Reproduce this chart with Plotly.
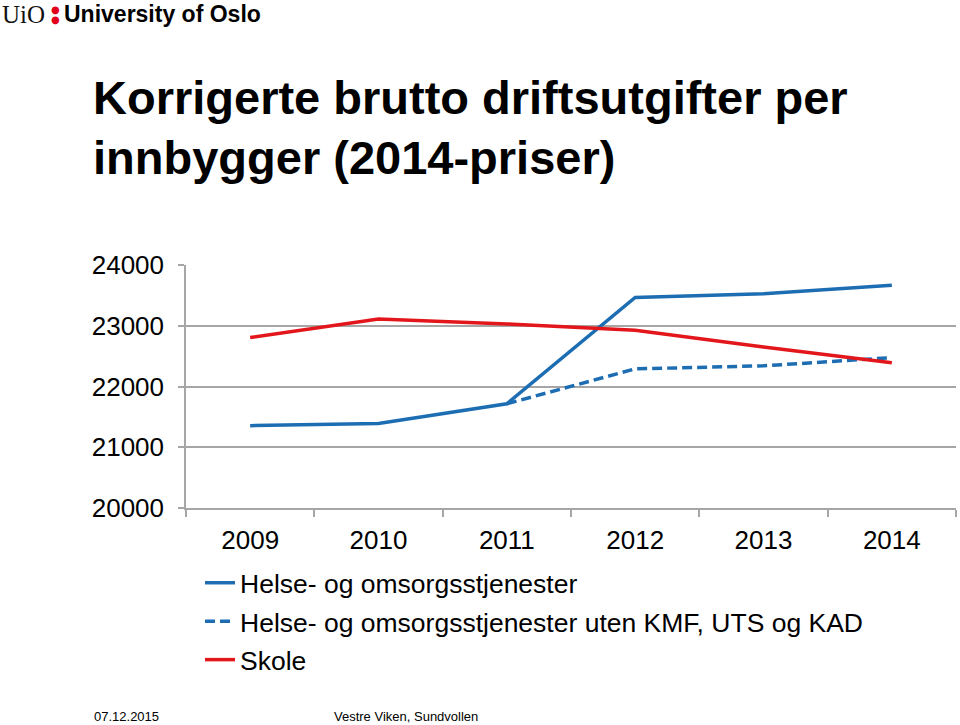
import plotly.graph_objects as go

years = ["2009", "2010", "2011", "2012", "2013", "2014"]
helse = [21355, 21390, 21715, 23465, 23525, 23665]
helse_uten = [None, None, 21715, 22290, 22340, 22475]
skole = [22805, 23110, 23030, 22925, 22650, 22390]
y_ticks = [20000, 21000, 22000, 23000, 24000]

BLUE = "#1D6DB3"
RED = "#E3171B"
GRID = "#A6A6A6"

L, R, T, B = 186, 956, 265, 508
W, H = 960, 725


def px(x):
    return (x - L) / (R - L)


def py(y):
    return (B - y) / (B - T)


fig = go.Figure()
fig.add_trace(go.Scatter(x=years, y=helse, mode="lines", name="Helse- og omsorgsstjenester",
                         legendgroup="a", line=dict(color=BLUE, width=3.5)))
fig.add_trace(go.Scatter(x=years, y=helse_uten, mode="lines",
                         name="Helse- og omsorgsstjenester uten KMF, UTS og KAD",
                         legendgroup="b", line=dict(color=BLUE, width=3.5, dash="10px,5px")))
fig.add_trace(go.Scatter(x=years, y=skole, mode="lines", name="Skole",
                         legendgroup="c", line=dict(color=RED, width=3.5)))

font = "Liberation Sans, Arial, sans-serif"

fig.update_layout(
    width=W, height=H,
    margin=dict(l=L, r=W - R, t=T, b=H - B, pad=0),
    plot_bgcolor="white", paper_bgcolor="white",
    font=dict(family=font, color="black", size=26),
    showlegend=True,
    legend=dict(x=px(200), y=py(559), xanchor="left", yanchor="top",
                font=dict(size=26.5, family=font), bgcolor="rgba(0,0,0,0)",
                traceorder="grouped", itemwidth=30, tracegroupgap=1),
    xaxis=dict(type="category", range=[-0.5, 5.5], tickson="boundaries",
               ticks="outside", ticklen=7, tickcolor=GRID, tickwidth=1.5,
               showline=True, linecolor=GRID, linewidth=1.5,
               showgrid=False, zeroline=False,
               tickfont=dict(size=26, family=font), ticklabelstandoff=8),
    yaxis=dict(range=[20000, 24000], tickvals=y_ticks, ticktext=[str(v) for v in y_ticks],
               ticks="outside", ticklen=6, tickcolor=GRID, tickwidth=1.5,
               showline=True, linecolor=GRID, linewidth=1.5,
               showgrid=True, gridcolor=GRID, gridwidth=1.5, zeroline=False,
               tickfont=dict(size=26, family=font), ticklabelstandoff=9),
)

ann = []
ann.append(dict(text="<b>Korrigerte brutto driftsutgifter per</b>", x=px(91), y=py(98),
                xanchor="left", yanchor="middle", font=dict(size=47, family=font)))
ann.append(dict(text="<b>innbygger (2014-priser)</b>", x=px(91), y=py(158),
                xanchor="left", yanchor="middle", font=dict(size=47, family=font)))
ann.append(dict(text="UiO", x=px(0), y=py(14), xanchor="left", yanchor="middle",
                font=dict(size=25, family="Liberation Serif, serif", color="#111")))
for dot_y in (9, 19):
    ann.append(dict(text="●", x=px(55), y=py(dot_y), xanchor="center", yanchor="middle",
                    font=dict(size=10, family="DejaVu Sans, sans-serif", color="#E2001A")))
ann.append(dict(text="<b>University of Oslo</b>", x=px(62), y=py(14), xanchor="left", yanchor="middle",
                font=dict(size=23, family=font, color="black")))
ann.append(dict(text="07.12.2015", x=px(92), y=py(716), xanchor="left", yanchor="middle",
                font=dict(size=13, family=font)))
ann.append(dict(text="Vestre Viken, Sundvollen", x=px(332), y=py(716), xanchor="left", yanchor="middle",
                font=dict(size=13, family=font)))
for a in ann:
    a.update(xref="paper", yref="paper", showarrow=False)
fig.update_layout(annotations=ann)

fig.write_html("out.html", post_script="document.body.style.margin='0';",
               config={"displayModeBar": False})
